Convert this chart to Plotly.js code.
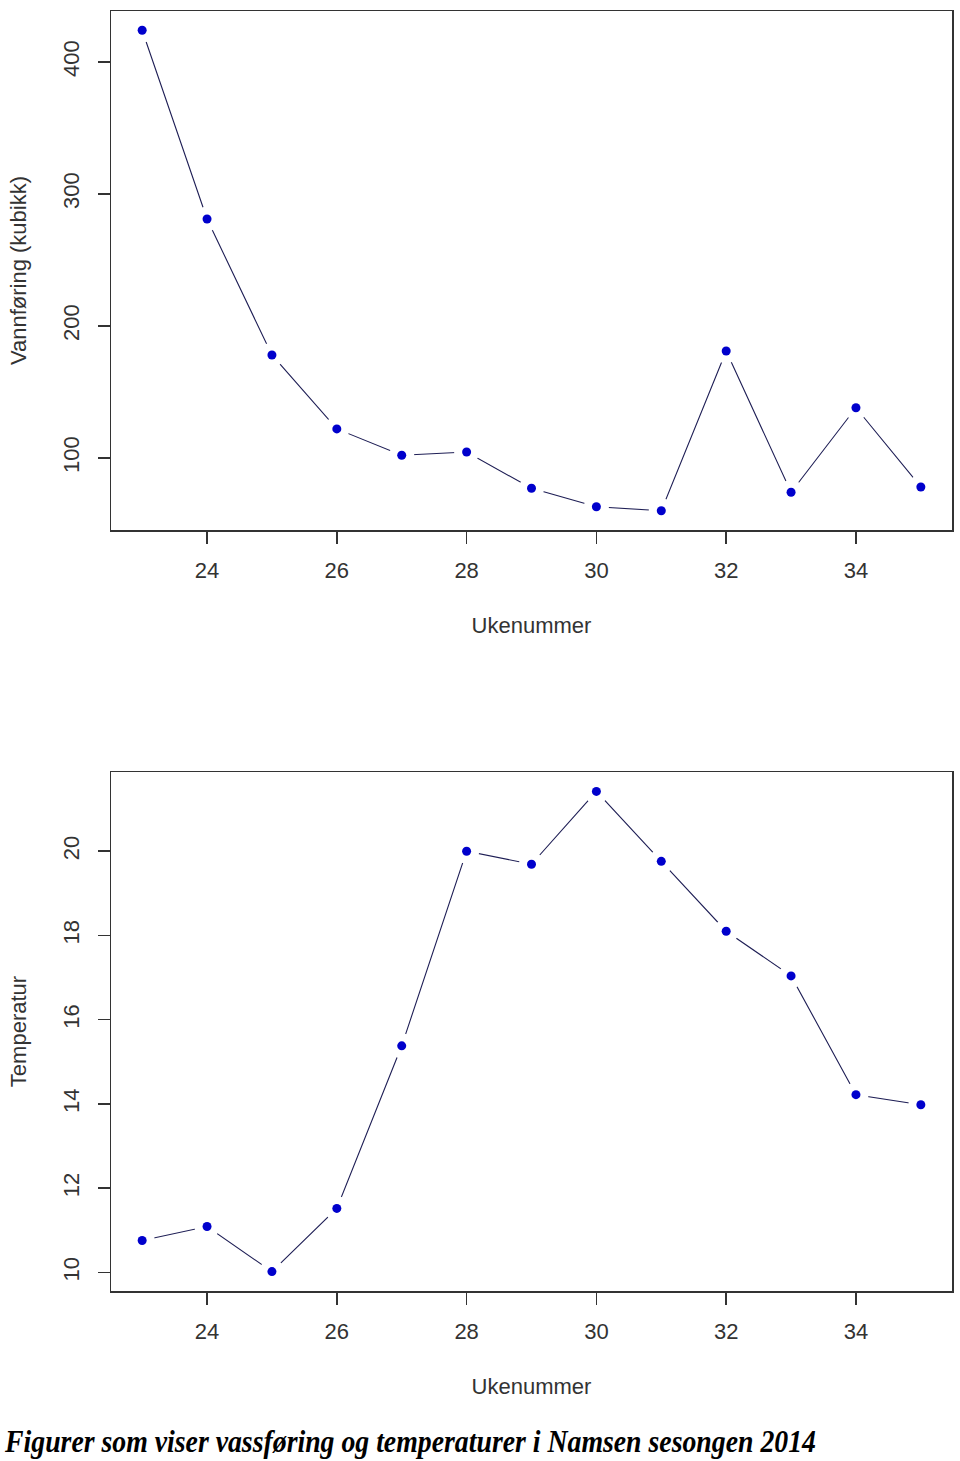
<!DOCTYPE html>
<html>
<head>
<meta charset="utf-8">
<script src="https://cdn.plot.ly/plotly-3.0.1.min.js"></script>
<style>
html,body{margin:0;padding:0;background:#fff;}
#wrap{position:relative;width:960px;height:1461px;}
#chart{position:absolute;left:0;top:0;width:960px;height:1461px;}
#cap{position:absolute;left:5px;top:1423px;white-space:nowrap;font-family:"Liberation Serif","Times New Roman",serif;font-weight:bold;font-style:italic;font-size:32px;color:#000;transform-origin:0 0;transform:scaleX(0.868);}
</style>
</head>
<body>
<div id="wrap">
<div id="chart"></div>
<div id="cap">Figurer som viser vassføring og temperaturer i Namsen sesongen 2014</div>
</div>
<script>
const weeks = [23,24,25,26,27,28,29,30,31,32,33,34,35];
const flow = [424,281,178,122,102,104.5,77,63,60,181,74,138,78];
const temperature = [10.76,11.09,10.02,11.52,15.38,20.0,19.69,21.42,19.76,18.10,17.04,14.22,13.98];
const xTicks = [24,26,28,30,32,34];
const flowTicks = [100,200,300,400];
const tempTicks = [10,12,14,16,18,20];
const xTitle = "Ukenummer";
const flowTitle = "Vannføring (kubikk)";
const tempTitle = "Temperatur";

const lineColor = "#1e1e55";
const dotColor = "#0000cc";
const txt = "#333333";
const fontFam = "Liberation Sans, Arial, sans-serif";

function series(x, y, xa, ya){
  return [
    {x:x, y:y, xaxis:xa, yaxis:ya, type:"scatter", mode:"lines", line:{color:lineColor, width:1.1}, hoverinfo:"skip"},
    {x:x, y:y, xaxis:xa, yaxis:ya, type:"scatter", mode:"markers", marker:{color:"#ffffff", size:25}, hoverinfo:"skip"},
    {x:x, y:y, xaxis:xa, yaxis:ya, type:"scatter", mode:"markers", marker:{color:dotColor, size:9}}
  ];
}

const data = [].concat(series(weeks, flow, "x", "y"), series(weeks, temperature, "x2", "y2"));

function xax(anchor){
  return {
    domain:[111/960, 952/960], anchor:anchor, range:[22.52, 35.48],
    tickvals:xTicks, ticks:"outside", ticklen:12, tickwidth:1.5, tickcolor:"#333",
    ticklabelstandoff:8,
    showline:true, mirror:true, linecolor:"#333", linewidth:1.5,
    showgrid:false, zeroline:false,
    tickfont:{family:fontFam, size:22, color:txt},
    title:{text:xTitle, font:{family:fontFam, size:22, color:txt}, standoff:35},
    automargin:false
  };
}
function yax(anchor, dom, rng, tv, title){
  return {
    domain:dom, anchor:anchor, range:rng,
    tickvals:tv, ticks:"outside", ticklen:12, tickwidth:1.5, tickcolor:"#333",
    tickangle:-90, ticklabelstandoff:10,
    showline:true, mirror:true, linecolor:"#333", linewidth:1.5,
    showgrid:false, zeroline:false,
    tickfont:{family:fontFam, size:22, color:txt},
    title:{text:title, font:{family:fontFam, size:22, color:txt}, standoff:26},
    automargin:false
  };
}

const layout = {
  width:960, height:1461,
  margin:{l:0, r:0, t:0, b:0},
  paper_bgcolor:"#ffffff", plot_bgcolor:"#ffffff",
  showlegend:false,
  xaxis: xax("y"),
  yaxis: yax("x", [1-530/1461, 1-11/1461], [45.4, 438.6], flowTicks, flowTitle),
  xaxis2: xax("y2"),
  yaxis2: yax("x2", [1-1291/1461, 1-772/1461], [9.56, 21.88], tempTicks, tempTitle)
};

Plotly.newPlot("chart", data, layout, {staticPlot:true, displayModeBar:false});
</script>
</body>
</html>
